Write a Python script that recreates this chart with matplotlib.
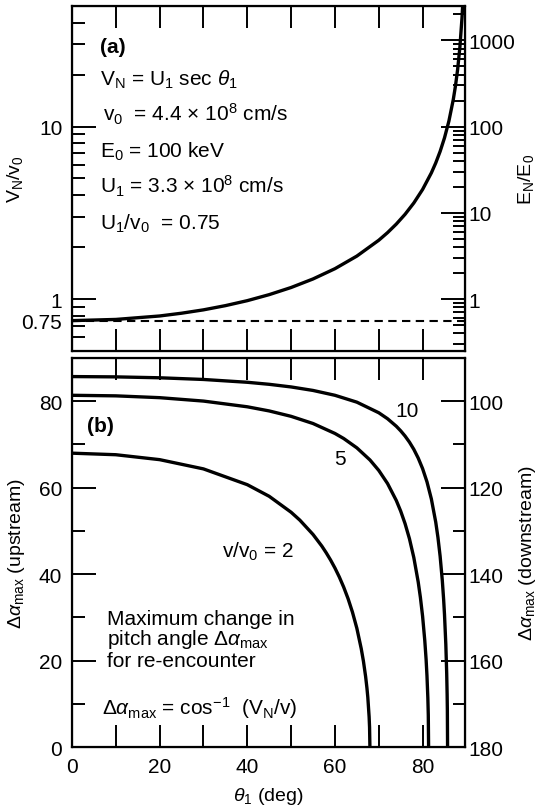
import numpy as np
import matplotlib
matplotlib.use("Agg")
import matplotlib.pyplot as plt
from matplotlib.ticker import FixedLocator, NullFormatter, LogLocator, FixedFormatter

plt.rcParams['font.family'] = ['Liberation Sans', 'DejaVu Sans']
plt.rcParams['mathtext.fontset'] = 'custom'
plt.rcParams['mathtext.rm'] = 'Liberation Sans'
plt.rcParams['mathtext.it'] = 'Liberation Sans:italic'
plt.rcParams['mathtext.bf'] = 'Liberation Sans:bold'

# ---- data (a): V_N / v0 versus theta_1 ----
theta_a = [0, 10, 20, 25, 30, 35, 40, 45, 50, 55, 60, 65, 70, 72, 74, 76, 78, 80, 82,
           83, 84, 85, 86, 87, 87.5, 88, 88.5, 89, 89.2]
vn_v0 = [0.75, 0.762, 0.798, 0.828, 0.866, 0.916, 0.979, 1.061, 1.167, 1.308, 1.5,
         1.775, 2.193, 2.427, 2.721, 3.100, 3.607, 4.319, 5.389, 6.154, 7.175, 8.605,
         10.75, 14.33, 17.19, 21.49, 28.65, 42.97, 53.7]
u1_v0 = 0.75

# ---- data (b): delta alpha max (upstream) versus theta_1 ----
theta_v2 = [0, 10, 20, 30, 40, 45, 50, 52, 55, 57, 58, 59, 60, 61, 62, 63, 64, 65, 66,
            66.5, 67, 67.3, 67.5, 67.8, 67.9, 67.98]
dalpha_v2 = [67.98, 67.62, 66.48, 64.34, 60.69, 58.0, 54.31, 52.48, 49.17, 46.49,
             44.95, 43.27, 41.41, 39.33, 36.98, 34.31, 31.19, 27.47, 22.75, 19.86,
             16.30, 13.66, 11.51, 6.97, 4.58, 0.0]
theta_v5 = [0, 10, 20, 30, 40, 45, 50, 55, 60, 62, 65, 68, 70, 72, 74, 75, 76, 77, 78,
            79, 79.5, 80, 80.5, 80.8, 81, 81.2, 81.3, 81.37]
dalpha_v5 = [81.37, 81.24, 80.82, 80.03, 78.71, 77.75, 76.50, 74.84, 72.54, 71.37,
             69.21, 66.40, 63.99, 60.96, 57.03, 54.58, 51.68, 48.19, 43.82, 38.17,
             34.60, 30.25, 24.62, 20.27, 16.47, 11.34, 7.39, 0.0]
theta_v10 = [0, 10, 20, 30, 40, 45, 50, 55, 60, 65, 70, 72, 74, 75, 76, 77, 78, 79, 80,
             81, 82, 83, 83.5, 84, 84.5, 84.8, 85, 85.3, 85.5, 85.6, 85.65, 85.7]
dalpha_v10 = [85.70, 85.63, 85.42, 85.03, 84.38, 83.91, 83.30, 82.49, 81.37, 79.78,
              77.33, 75.95, 74.21, 73.15, 71.94, 70.53, 68.86, 66.85, 64.41, 61.35,
              57.39, 52.02, 48.51, 44.15, 38.51, 34.15, 30.63, 23.76, 17.07, 12.15,
              8.59, 0.0]

xticks = [0, 10, 20, 30, 40, 50, 60, 70, 80]
xticklabels = ['0', '', '20', '', '40', '', '60', '', '80']

LW = 2.4
FS = 15
TFS = 15
LFS = 14

fig = plt.figure(figsize=(5.4, 8.12), dpi=100)
axa = fig.add_axes([0.1333, 0.5665, 0.7280, 0.4249])
axb = fig.add_axes([0.1333, 0.0788, 0.7280, 0.4791])

XMAX = 89.7
MAJ, MIN, XT = 17, 9, 16

def spines(ax):
    for s in ax.spines.values():
        s.set_linewidth(1.6)

# ---------- panel (a) ----------
axa.plot(theta_a, vn_v0, color='black', lw=LW, solid_capstyle='butt')
axa.axhline(u1_v0, color='black', lw=1.5, dashes=(4.0, 2.6))
axa.set_yscale('log')
axa.set_xlim(0, XMAX)
axa.set_ylim(0.5, 50)
axa.set_xticks(xticks)
axa.set_xticklabels([])
spines(axa)
axa.tick_params(axis='x', which='major', direction='in', length=XT, width=1.4,
                top=True, bottom=True)
axa.yaxis.set_major_locator(FixedLocator([1, 10]))
axa.yaxis.set_major_formatter(FixedFormatter(['1', '10']))
axa.yaxis.set_minor_locator(FixedLocator([0.6, 0.7, 0.75, 0.8, 0.9, 2, 3, 4, 5, 6, 7,
                                          8, 9, 20, 30, 40]))
axa.yaxis.set_minor_formatter(FixedFormatter(['', '', '0.75', '', '', '', '', '', '',
                                              '', '', '', '', '', '', '']))
axa.tick_params(axis='y', which='both', direction='in', width=1.4, labelsize=TFS, pad=7)
axa.tick_params(axis='y', which='major', length=MAJ)
axa.tick_params(axis='y', which='minor', length=MIN)
axa.set_ylabel(r'V$_\mathrm{N}$/v$_0$', fontsize=LFS)
axa.yaxis.set_label_coords(-0.12, 0.5)

axa2 = axa.twinx()
axa2.set_yscale('log')
axa2.set_ylim(0.5 ** 2, 50 ** 2)
axa2.yaxis.set_major_locator(FixedLocator([1, 10, 100, 1000]))
axa2.yaxis.set_major_formatter(FixedFormatter(['1', '10', '100', '1000']))
axa2.yaxis.set_minor_locator(LogLocator(base=10, subs=np.arange(2, 10)))
axa2.yaxis.set_minor_formatter(NullFormatter())
axa2.tick_params(which='both', direction='in', width=1.4, labelsize=TFS, pad=2)
axa2.tick_params(which='major', length=MAJ)
axa2.tick_params(which='minor', length=MIN)
axa2.set_ylabel(r'E$_\mathrm{N}$/E$_0$', fontsize=LFS)
axa2.yaxis.set_label_coords(1.13, 0.5)

def atext(ax, x, y, s, **kw):
    ax.text(x, y, s, transform=ax.transAxes, fontsize=FS, va='baseline', **kw)

atext(axa, 0.071, 0.867, '(a)', fontweight='bold')
atext(axa, 0.071, 0.771, r'V$_\mathrm{N}$ = U$_1$ sec $\theta_1$')
atext(axa, 0.080, 0.667, r'v$_0$  = 4.4 $\times$ 10$^8$ cm/s')
atext(axa, 0.071, 0.562, r'E$_0$ = 100 keV')
atext(axa, 0.071, 0.458, r'U$_1$ = 3.3 $\times$ 10$^8$ cm/s')
atext(axa, 0.071, 0.354, r'U$_1$/v$_0$  = 0.75')

# ---------- panel (b) ----------
for th, da in [(theta_v2, dalpha_v2), (theta_v5, dalpha_v5), (theta_v10, dalpha_v10)]:
    axb.plot(th, da, color='black', lw=LW, solid_capstyle='butt')
axb.set_xlim(0, XMAX)
axb.set_ylim(0, 90)
axb.set_xticks(xticks)
axb.set_xticklabels(xticklabels)
spines(axb)
axb.tick_params(axis='x', which='major', direction='in', length=XT, width=1.4,
                top=True, bottom=True, labelsize=TFS, pad=7)
axb.yaxis.set_major_locator(FixedLocator([0, 20, 40, 60, 80]))
axb.yaxis.set_minor_locator(FixedLocator([10, 30, 50, 70]))
axb.yaxis.set_minor_formatter(NullFormatter())
axb.tick_params(axis='y', which='both', direction='in', width=1.4, labelsize=TFS, pad=7)
axb.tick_params(axis='y', which='major', length=MAJ)
axb.tick_params(axis='y', which='minor', length=MIN)
axb.set_xlabel(r'$\theta_1$ (deg)', fontsize=LFS, va='top')
axb.xaxis.set_label_coords(0.5, -0.098)
axb.set_ylabel(r'$\Delta\alpha_\mathrm{max}$ (upstream)', fontsize=LFS)
axb.yaxis.set_label_coords(-0.115, 0.5)

axb2 = axb.twinx()
axb2.set_ylim(180, 90)
axb2.yaxis.set_major_locator(FixedLocator([100, 120, 140, 160, 180]))
axb2.yaxis.set_minor_locator(FixedLocator([110, 130, 150, 170]))
axb2.yaxis.set_minor_formatter(NullFormatter())
axb2.tick_params(which='both', direction='in', width=1.4, labelsize=TFS, pad=2)
axb2.tick_params(which='major', length=MAJ)
axb2.tick_params(which='minor', length=MIN)
axb2.set_ylabel(r'$\Delta\alpha_\mathrm{max}$ (downstream)', fontsize=LFS)
axb2.yaxis.set_label_coords(1.132, 0.5)

def dtext(x, y, s, **kw):
    axb.text(x, y, s, fontsize=FS, va='baseline', **kw)

dtext(3.4, 73.1, '(b)', fontweight='bold')
dtext(76.5, 76.6, '10', ha='center')
dtext(61.2, 65.5, '5', ha='center')
dtext(42.5, 44.0, r'v/v$_0$ = 2', ha='center')
dtext(8.0, 28.5, 'Maximum change in')
dtext(8.0, 23.8, r'pitch angle $\Delta\alpha_\mathrm{max}$')
dtext(8.0, 18.8, 'for re-encounter')
dtext(6.8, 7.6, r'$\Delta\alpha_\mathrm{max}$ = cos$^{-1}$  (V$_\mathrm{N}$/v)')

fig.savefig('out.png', dpi=100)
